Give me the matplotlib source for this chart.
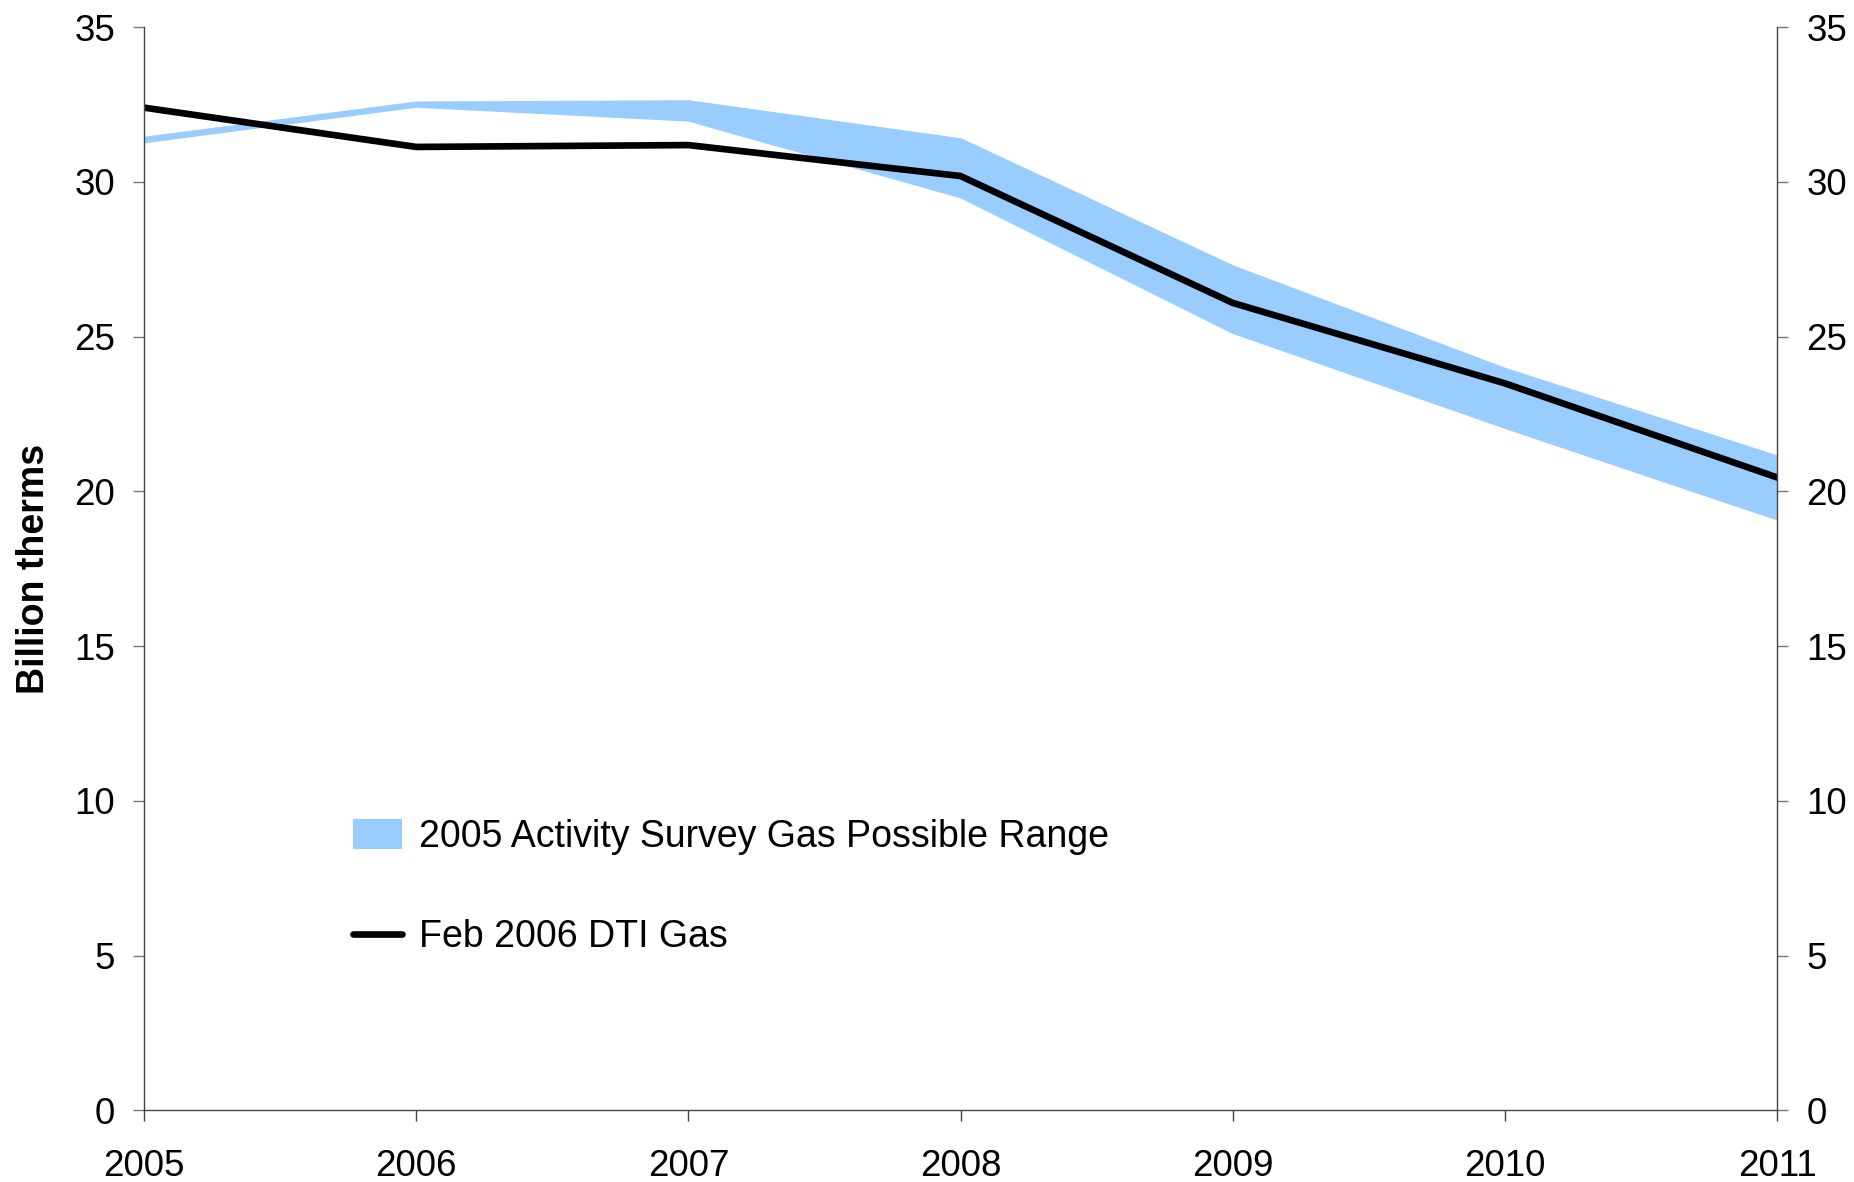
import numpy as np
import matplotlib.pyplot as plt
from matplotlib.patches import Patch
from matplotlib.lines import Line2D

plt.rcParams['font.family'] = ['Liberation Sans', 'DejaVu Sans']

years = [2005, 2006, 2007, 2008, 2009, 2010, 2011]
dti_gas = [32.4, 31.13, 31.19, 30.19, 26.09, 23.49, 20.45]
survey_high = [31.42, 32.56, 32.6, 31.37, 27.26, 23.95, 21.12]
survey_low = [31.32, 32.47, 32.02, 29.54, 25.16, 22.09, 19.13]

fig = plt.figure(figsize=(18.54, 11.82), dpi=100)
ax = fig.add_axes([0.0777, 0.0607, 0.8808, 0.9163])

band_col = '#99ccff'
ax.fill_between(years, survey_low, survey_high, facecolor=band_col,
                edgecolor=band_col, linewidth=2.5)
ax.plot(years, dti_gas, color='black', linewidth=4.8, solid_joinstyle='miter')

ax.set_xlim(2005, 2011)
ax.set_ylim(0, 35)
ax.set_xticks(years)
ax.set_yticks(range(0, 36, 5))

ax.spines['top'].set_visible(False)
for s in ['left', 'right', 'bottom']:
    ax.spines[s].set_linewidth(1.0)
    ax.spines[s].set_color('#444444')

ax.tick_params(axis='y', which='both', direction='out', length=8, width=1,
               color='#777777', labelsize=26.5, pad=13,
               left=True, right=True, labelleft=True, labelright=True)
ax.tick_params(axis='x', direction='out', length=8, width=1, color='#444444',
               labelsize=26.5, pad=20)

ax.set_ylabel('Billion therms', fontsize=27, fontweight='bold', labelpad=16)

handles = [Patch(facecolor=band_col, edgecolor='none'),
           Line2D([0], [0], color='black', linewidth=4.8, solid_capstyle='round')]
labels = ['2005 Activity Survey Gas Possible Range', 'Feb 2006 DTI Gas']
ax.legend(handles, labels, loc='upper left', bbox_to_anchor=(0.128, 0.269),
          frameon=False, fontsize=27, handlelength=1.3, handleheight=0.83,
          handletextpad=0.45, labelspacing=1.72, borderpad=0, borderaxespad=0)

fig.savefig('out.png', dpi=100)
